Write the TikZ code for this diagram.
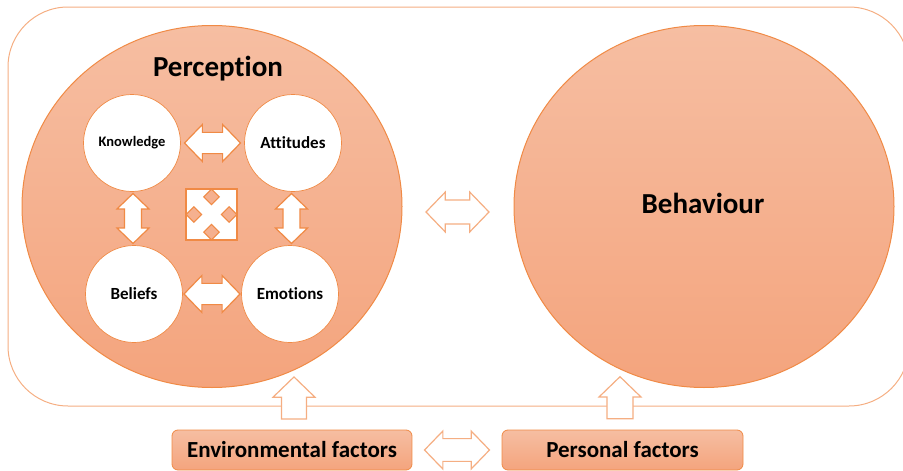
\documentclass[tikz,border=0pt]{standalone}
\usepackage{fontspec}
\setmainfont[Ligatures={NoCommon}]{Carlito}
\usetikzlibrary{shapes.arrows,shapes.geometric,calc}
\definecolor{edgeor}{HTML}{F08A45}
\definecolor{lightor}{HTML}{F5AE82}
\definecolor{fillTop}{HTML}{F6BEA2}
\definecolor{fillBot}{HTML}{F4A47D}
\definecolor{midfill}{HTML}{F5B08F}
\tikzset{
  bigcirc/.style={ellipse, minimum width=380pt, minimum height=362pt, inner sep=0pt,
    draw=edgeor, line width=1pt, top color=fillTop, bottom color=fillBot},
  smallcirc/.style={circle, minimum size=97pt, inner sep=0pt, fill=white,
    draw=edgeor, line width=0.7pt, font=\bfseries\fontsize{17}{19}\selectfont},
  factorbox/.style={rectangle, rounded corners=6pt, draw=edgeor, line width=0.8pt,
    top color=fillTop, bottom color=fillBot, minimum width=240pt, minimum height=40pt,
    inner sep=0pt, font=\bfseries\fontsize{23}{26}\selectfont},
  dblarrow/.style={double arrow, draw=edgeor, fill=white, line width=1.2pt,
    inner xsep=0pt, double arrow tip angle=92},
  uparrow/.style={single arrow, draw=lightor, fill=white, line width=1.2pt,
    inner xsep=0pt, single arrow tip angle=92, rotate=90},
  notch/.style={diamond, fill=midfill, draw=edgeor, line width=1pt, minimum size=16pt, inner sep=0pt},
}
\begin{document}
\begin{tikzpicture}[x=1pt,y=-1pt]
\useasboundingbox (0,0) rectangle (903,471);
\clip (0,0) rectangle (903,471);
% outer frame
\draw[lightor, line width=1pt, rounded corners=60pt] (8,7) rectangle (909,406);
% big circles
\node[bigcirc] (perc) at (212,206.5) {};
\node[bigcirc] (beh) at (704,206.5) {};
\node[font=\bfseries\fontsize{29}{32}\selectfont] (perct) at (218,69) {Perception};
\node[font=\bfseries\fontsize{29}{32}\selectfont] (beht) at (703,203) {Behaviour};
% small circles
\node[smallcirc] (know) at (132,143) {\fontsize{14.5}{16}\selectfont Knowledge};
\node[smallcirc] (att) at (293,143) {Attitudes};
\node[smallcirc] (bel) at (134,294) {Beliefs};
\node[smallcirc] (emo) at (290,294) {Emotions};
% inner double arrows
\node[dblarrow, minimum height=56pt, minimum width=37pt, inner ysep=9pt] (ka) at ($(know.east)!0.5!(att.west)$) {};
\node[dblarrow, minimum height=56pt, minimum width=37pt, inner ysep=9pt] (be) at ($(bel.east)!0.5!(emo.west)$) {};
\node[dblarrow, rotate=90, minimum height=50pt, minimum width=32pt, inner ysep=7.5pt] (kb) at ($(know.south)!0.5!(bel.north)$) {};
\node[dblarrow, rotate=90, minimum height=50pt, minimum width=32pt, inner ysep=7.5pt] (ae) at ($(att.south)!0.5!(emo.north)$) {};
% quad arrow
\node[rectangle, minimum size=51pt, inner sep=0pt, fill=white, draw=edgeor, line width=1.2pt] (quad) at (211.5,214.5) {};
\node[notch, anchor=north] (qn) at (quad.north) {};
\node[notch, anchor=south] (qs) at (quad.south) {};
\node[notch, anchor=west] (qw) at (quad.west) {};
\node[notch, anchor=east] (qe) at (quad.east) {};
% perception-behaviour arrow
\node[double arrow, draw=lightor, fill=white, line width=1.2pt, inner xsep=0pt, inner ysep=10pt,
  double arrow tip angle=92, minimum height=63pt, minimum width=40pt] (pb) at (457.5,212) {};
% factor boxes
\node[factorbox] (env) at (292,450) {Environmental factors};
\node[factorbox, minimum width=241pt] (pers) at (622.5,450) {Personal factors};
\node[double arrow, draw=lightor, fill=white, line width=1.2pt, inner xsep=0pt, inner ysep=10pt,
  double arrow tip angle=92, minimum height=65pt, minimum width=38pt] (ep) at ($(env.east)!0.5!(pers.west)$) {};
% up arrows
\node[uparrow, minimum height=42pt, minimum width=42pt, inner ysep=10pt] (eu) at (294,404) {};
\node[uparrow, minimum height=42pt, minimum width=42pt, inner ysep=11pt] (pu) at (620,404) {};
\end{tikzpicture}
\end{document}
